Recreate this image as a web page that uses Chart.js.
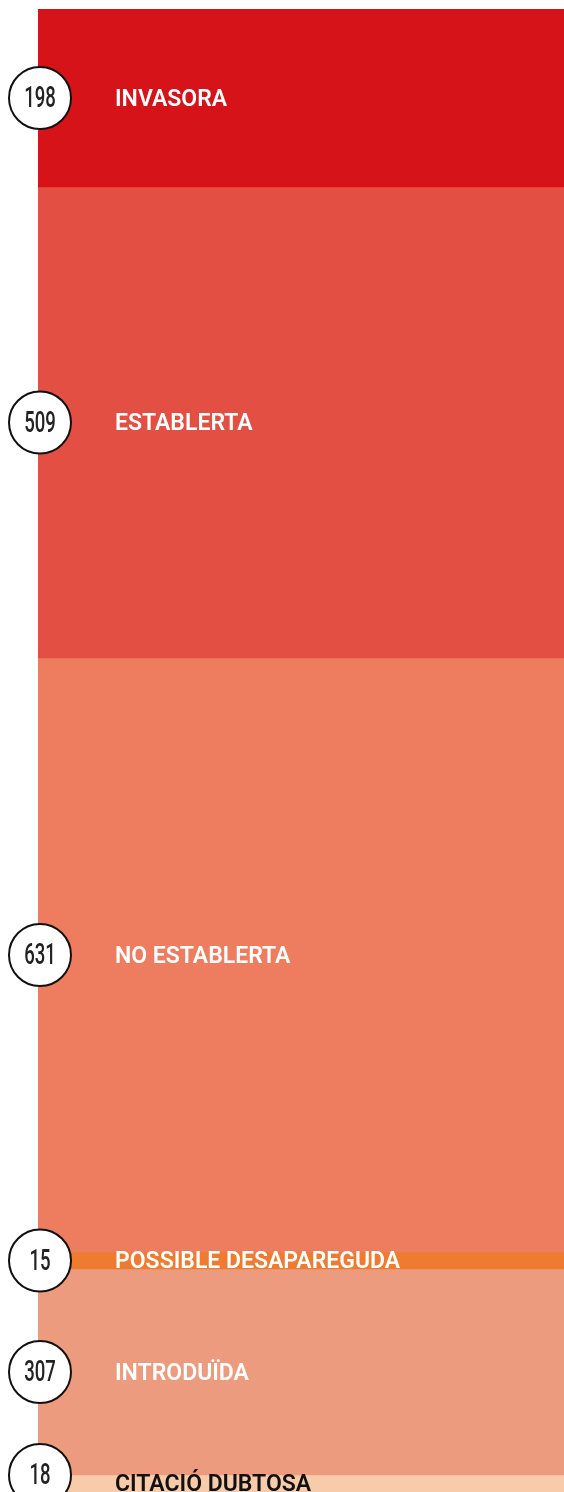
<!DOCTYPE html>
<html>
<head>
<meta charset="utf-8">
<script src="https://cdn.jsdelivr.net/npm/chart.js@4/dist/chart.umd.min.js"></script>
<style>
  html, body { margin: 0; padding: 0; background: #fff; }
  #chart { display: block; }
</style>
</head>
<body>
<canvas id="chart" width="564" height="1492"></canvas>
<script>
// categories, top to bottom
const categories = ['INVASORA', 'ESTABLERTA', 'NO ESTABLERTA', 'POSSIBLE DESAPAREGUDA', 'INTRODUÏDA', 'CITACIÓ DUBTOSA']
// numbers shown in the circles
const counts = [198, 509, 631, 15, 307, 18]
// length of each block as drawn in the picture (not proportional to counts)
const blockLengths = [178, 471, 594, 17, 206, 17]
const colors = ['#d51318', '#e35043', '#ee7d5f', '#ee7b2f', '#ed9b7f', '#f8cbab']
const textColors = ['#fff', '#fff', '#fff', '#fff', '#fff', '#111']

const total = blockLengths.reduce((a, b) => a + b, 0)

const datasets = categories.map((c, i) => ({
  label: c,
  data: [blockLengths[i]],
  backgroundColor: colors[i],
  borderWidth: 0,
  barPercentage: 1,
  categoryPercentage: 1,
}))

// circles with counts + category names
const labelPlugin = {
  id: 'blockLabels',
  afterDatasetsDraw(chart) {
    const ctx = chart.ctx
    const area = chart.chartArea
    chart.data.datasets.forEach((ds, i) => {
      const bar = chart.getDatasetMeta(i).data[0]
      const mid = (bar.y + bar.base) / 2
      const cy = Math.min(mid, area.bottom - 17)
      const cx = area.left + 2

      ctx.save()
      ctx.beginPath()
      ctx.arc(cx, cy, 31, 0, Math.PI * 2)
      ctx.fillStyle = '#fff'
      ctx.fill()
      ctx.lineWidth = 2
      ctx.strokeStyle = '#111'
      ctx.stroke()

      ctx.translate(cx, cy + 2)
      ctx.scale(0.64, 1)
      ctx.fillStyle = '#222'
      ctx.font = '500 29px Roboto'
      ctx.textAlign = 'center'
      ctx.textBaseline = 'middle'
      ctx.fillText(String(counts[i]), 0, 0)
      ctx.restore()

      ctx.save()
      ctx.fillStyle = textColors[i]
      ctx.font = '600 23px Roboto'
      ctx.textAlign = 'left'
      ctx.textBaseline = 'middle'
      ctx.fillText(categories[i], 115, mid + 2)
      ctx.restore()
    })
  }
}

const config = {
  type: 'bar',
  data: { labels: [''], datasets: datasets },
  options: {
    responsive: false,
    animation: false,
    layout: { padding: { left: 38, top: 9, right: 0, bottom: 0 } },
    plugins: { legend: { display: false }, tooltip: { enabled: false } },
    scales: {
      x: { stacked: true, display: false },
      y: { stacked: true, display: false, reverse: true, min: 0, max: total }
    }
  },
  plugins: [labelPlugin]
}

new Chart(document.getElementById('chart'), config)
</script>
</body>
</html>
